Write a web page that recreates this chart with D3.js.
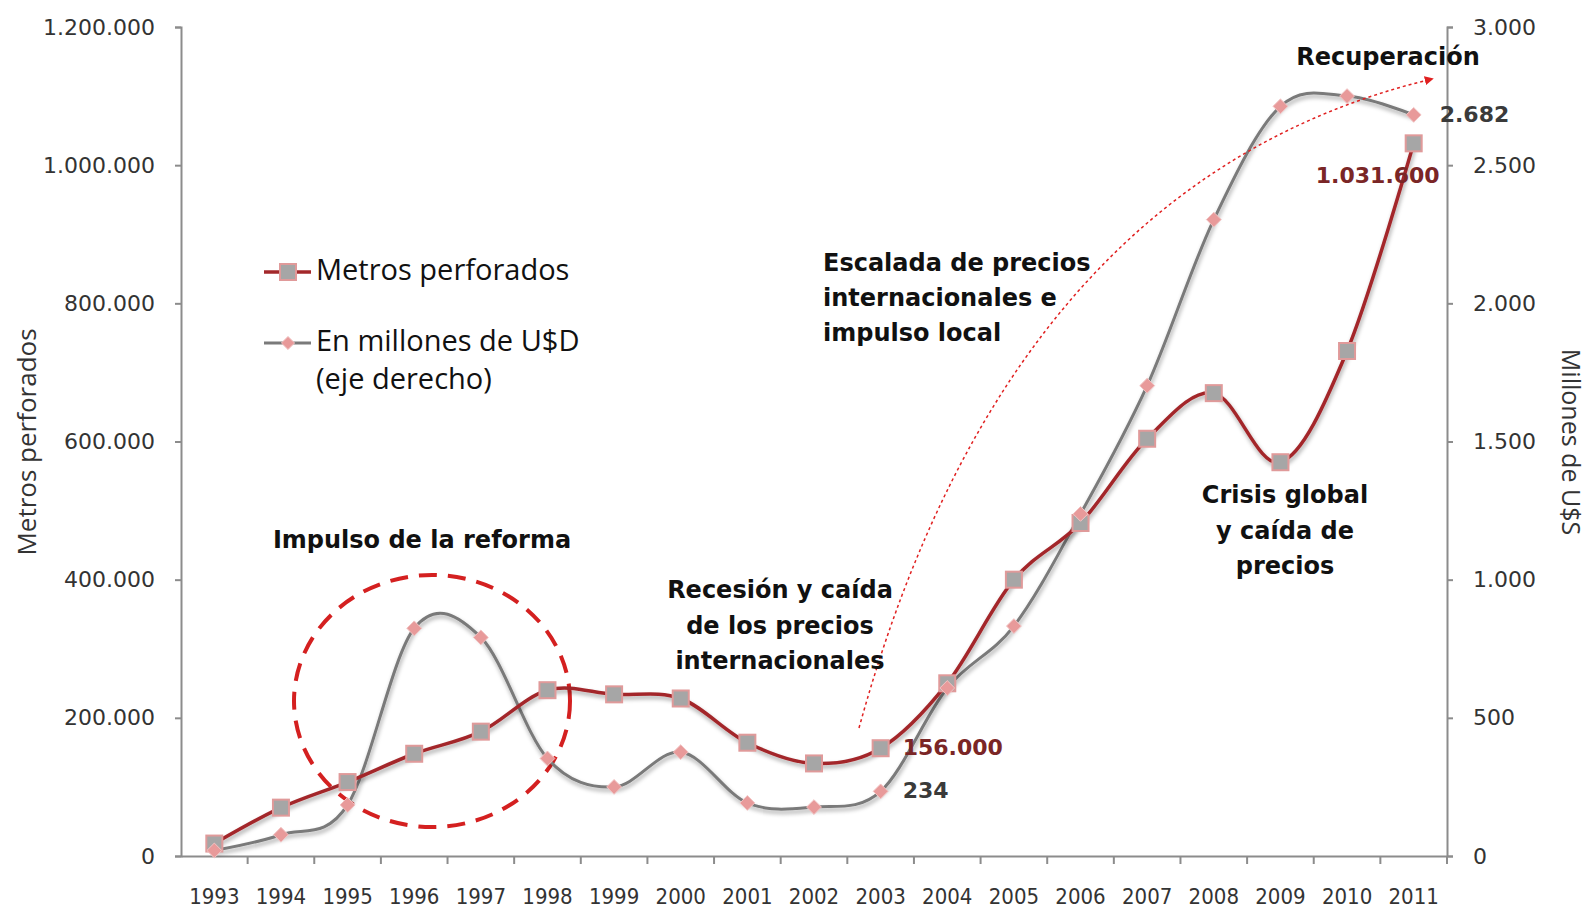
<!DOCTYPE html>
<html><head><meta charset="utf-8">
<script src="https://cdn.jsdelivr.net/npm/d3@7"></script>
<style>
body{margin:0;background:#fff;}
svg{display:block;}
</style></head>
<body>
<svg id="c" width="1592" height="911"></svg>
<script>
const years = ["1993","1994","1995","1996","1997","1998","1999","2000","2001","2002","2003","2004","2005","2006","2007","2008","2009","2010","2011"];
const metros = [18000,70000,107000,148000,180000,240000,234000,228000,164000,134000,156000,250000,400000,482000,604000,670000,570000,731000,1031600];
const usd = [20,77,185,824,791,353,250,376,192,177,234,608,832,1238,1702,2303,2713,2750,2682];
const leftTicks = [0,200000,400000,600000,800000,1000000,1200000];
const rightTicks = [0,500,1000,1500,2000,2500,3000];

const svg = d3.select("#c");
const L = 181, R = 1447, T = 27, B = 856;
const fmt = d3.formatLocale({decimal:",",thousands:".",grouping:[3],currency:["$",""]}).format(",");

const x = d3.scaleBand().domain(years).range([L,R]);
const yL = d3.scaleLinear().domain([0,1200000]).range([B,T]);
const yR = d3.scaleLinear().domain([0,3000]).range([B,T]);
const cx = d => x(d) + x.bandwidth()/2;

const defs = svg.append("defs");
const f = defs.append("filter").attr("id","sh").attr("x","-10%").attr("y","-10%").attr("width","120%").attr("height","130%");
f.append("feDropShadow").attr("dx",1).attr("dy",3).attr("stdDeviation",2).attr("flood-color","#000").attr("flood-opacity",0.35);
defs.append("marker").attr("id","arr").attr("viewBox","0 0 10 10").attr("refX",8).attr("refY",5)
  .attr("markerWidth",6).attr("markerHeight",6).attr("orient","auto")
  .append("path").attr("d","M0,0L10,5L0,10z").attr("fill","#e02020");

const condFont = "'DejaVu Sans Condensed','DejaVu Sans',sans-serif";
const tickFont = "'DejaVu Sans',sans-serif";

// Left axis
const gL = svg.append("g").attr("transform",`translate(${L},0)`)
  .call(d3.axisLeft(yL).tickValues(leftTicks).tickFormat(fmt).tickSize(6).tickPadding(20));
// Right axis
const gR = svg.append("g").attr("transform",`translate(${R},0)`)
  .call(d3.axisRight(yR).tickValues(rightTicks).tickFormat(fmt).tickSize(6).tickPadding(20));
// X axis
const gX = svg.append("g").attr("transform",`translate(0,${B})`)
  .call(d3.axisBottom(x).tickSize(0).tickPadding(32));
gX.selectAll(".bt").data(years.slice(1)).enter().append("line").attr("class","bt")
  .attr("x1",d=>x(d)).attr("x2",d=>x(d)).attr("y1",0).attr("y2",8);
gX.append("line").attr("x1",R).attr("x2",R).attr("y1",0).attr("y2",8);
[gL,gR,gX].forEach(g=>{
  g.select(".domain").attr("stroke","#8c8c8c").attr("stroke-width",2);
  g.selectAll("line").attr("stroke","#8c8c8c").attr("stroke-width",2);
  g.selectAll("text").attr("fill","#333").style("font-family",tickFont).style("font-size","22px");
});
gX.selectAll("text").style("font-family",condFont).style("font-size","22px");

// Axis titles
svg.append("text").attr("transform","translate(36,442) rotate(-90)").attr("text-anchor","middle")
  .style("font-family","'Open Sans',sans-serif").style("font-size","26px").attr("fill","#333").text("Metros perforados");
svg.append("text").attr("transform","translate(1562,442) rotate(90)").attr("text-anchor","middle")
  .style("font-family","'Open Sans',sans-serif").style("font-size","25px").attr("fill","#333").text("Millones de U$S");

// Dashed ellipse
svg.append("ellipse").attr("cx",432).attr("cy",701).attr("rx",138).attr("ry",126)
  .attr("fill","none").attr("stroke","#d42020").attr("stroke-width",4).attr("stroke-dasharray","18,11");

// Lines
const curve = d3.curveCardinal.tension(0);
const lineL = d3.line().x((d,i)=>cx(years[i])).y(d=>yL(d)).curve(curve);
const lineR = d3.line().x((d,i)=>cx(years[i])).y(d=>yR(d)).curve(curve);

svg.append("path").attr("d",lineR(usd)).attr("fill","none").attr("stroke","#7a7a7a").attr("stroke-width",3).attr("filter","url(#sh)");
svg.append("path").attr("d",lineL(metros)).attr("fill","none").attr("stroke","#a3282b").attr("stroke-width",3.5).attr("filter","url(#sh)");

// markers
svg.append("g").selectAll("rect").data(metros).enter().append("rect")
  .attr("x",(d,i)=>cx(years[i])-8).attr("y",d=>yL(d)-8).attr("width",16).attr("height",16)
  .attr("fill","#a6a6a6").attr("stroke","#e09a9a").attr("stroke-width",2);
const diamond = d3.symbol().type(d3.symbolDiamond2).size(140);
svg.append("g").selectAll("path").data(usd).enter().append("path")
  .attr("d",diamond)
  .attr("transform",(d,i)=>`translate(${cx(years[i])},${yR(d)})`)
  .attr("fill","#e89a9a").attr("stroke","#f2c4c4").attr("stroke-width",1);

// Dotted arrow
svg.append("path").attr("d","M859,728 Q1010,180 1432,79")
  .attr("fill","none").attr("stroke","#e02020").attr("stroke-width",1.5).attr("stroke-dasharray","3,3")
  .attr("marker-end","url(#arr)");

// Value labels
function lbl(t,xx,yy,col,anchor){
  svg.append("text").attr("x",xx).attr("y",yy).attr("text-anchor",anchor||"start")
   .attr("dominant-baseline","middle").style("font-family",tickFont).style("font-size","22px")
   .style("font-weight","bold").attr("fill",col).text(t);
}
lbl(fmt(metros[10]), cx("2003")+22, yL(metros[10])+1, "#7a2626");
lbl(fmt(usd[10]), cx("2003")+22, yR(usd[10])+1, "#3a3a3a");
lbl(fmt(usd[18]), cx("2011")+26, yR(usd[18])+1, "#3a3a3a");
lbl(fmt(metros[18]), cx("2011")+26, yL(metros[18])+34, "#7a2626","end");

// Annotations
function ann(lines,xx,y0,dy,anchor){
  const t = svg.append("text").attr("text-anchor",anchor).style("font-family",tickFont)
    .style("font-size","24px").style("font-weight","bold").attr("fill","#111");
  lines.forEach((s,i)=>t.append("tspan").attr("x",xx).attr("y",y0+i*dy).attr("dominant-baseline","middle").text(s));
}
ann(["Impulso de la reforma"],422,541,0,"middle");
ann(["Recesión y caída","de los precios","internacionales"],780,591,35.5,"middle");
ann(["Escalada de precios","internacionales e","impulso local"],823,264,35,"start");
ann(["Crisis global","y caída de","precios"],1285,496,35.5,"middle");
ann(["Recuperación"],1388,58,0,"middle");

// Legend
const lg = svg.append("g");
const legFont = "'Open Sans',sans-serif";
lg.append("line").attr("x1",264).attr("x2",311).attr("y1",272).attr("y2",272).attr("stroke","#a3282b").attr("stroke-width",3.5);
lg.append("rect").attr("x",280).attr("y",264).attr("width",16).attr("height",16).attr("fill","#a6a6a6").attr("stroke","#e09a9a").attr("stroke-width",2);
lg.append("text").attr("x",316).attr("y",272).attr("dominant-baseline","middle").style("font-family",legFont).style("font-size","29px").attr("fill","#111").text("Metros perforados");
lg.append("line").attr("x1",264).attr("x2",311).attr("y1",343).attr("y2",343).attr("stroke","#7a7a7a").attr("stroke-width",3);
lg.append("path").attr("d",d3.symbol().type(d3.symbolDiamond2).size(110)).attr("transform","translate(288,343)").attr("fill","#e89a9a").attr("stroke","#f2c4c4");
lg.append("text").attr("x",316).attr("y",343).attr("dominant-baseline","middle").style("font-family",legFont).style("font-size","29px").attr("fill","#111").text("En millones de U$D");
lg.append("text").attr("x",316).attr("y",381).attr("dominant-baseline","middle").style("font-family",legFont).style("font-size","29px").attr("fill","#111").text("(eje derecho)");
</script>
</body></html>
